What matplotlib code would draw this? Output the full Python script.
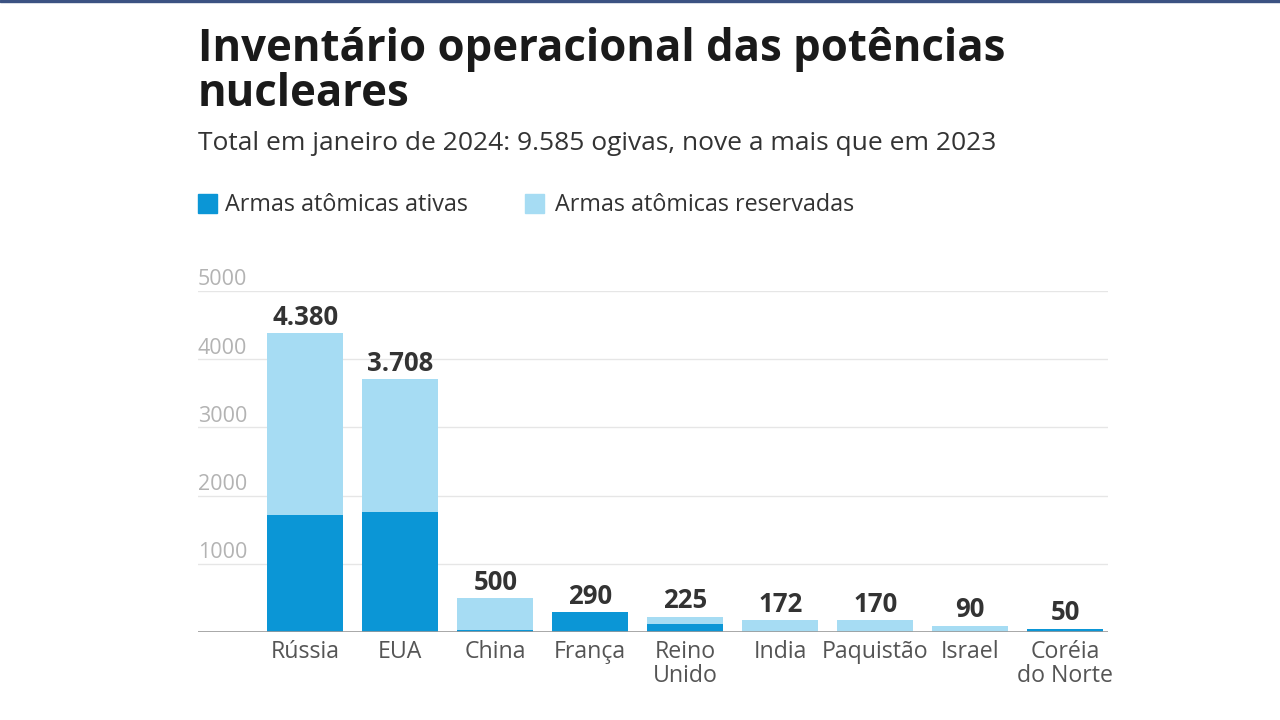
import matplotlib.pyplot as plt
import numpy as np

plt.rcParams['font.family'] = ['Open Sans', 'DejaVu Sans']

categories = ["Rússia", "EUA", "China", "França", "Reino\nUnido", "India", "Paquistão", "Israel", "Coréia\ndo Norte"]
totals = [4380, 3708, 500, 290, 225, 172, 170, 90, 50]
active = [1715, 1765, 24, 290, 120, 0, 0, 0, 50]
reserve = [t - a for t, a in zip(totals, active)]
total_labels = ["4.380", "3.708", "500", "290", "225", "172", "170", "90", "50"]
yticks = [1000, 2000, 3000, 4000, 5000]

dark = "#0b96d6"
light = "#a6dcf3"

W, H = 1280, 720
fig = plt.figure(figsize=(12.8, 7.2), dpi=100)
fig.patch.set_facecolor("white")

# axes placement in pixel coords
x0, x1 = 198, 1108
y0, y1 = 632, 291  # y for 0 and 5000
ax = fig.add_axes([x0 / W, 1 - y0 / H, (x1 - x0) / W, (y0 - y1) / H])
ax.set_xlim(-1.13, 8.45)
ax.set_ylim(0, 5000)

x = np.arange(len(categories))
ax.bar(x, active, width=0.8, color=dark, zorder=3)
ax.bar(x, reserve, bottom=active, width=0.8, color=light, zorder=3)

for xi, t, lab in zip(x, totals, total_labels):
    ax.text(xi, t + 35, lab, ha="center", va="bottom", fontsize=18.5,
            fontweight="bold", color="#333333", zorder=4)

for yt in yticks:
    ax.axhline(yt, color="#e6e6e6", lw=1, zorder=1)
    ax.text(-1.13, yt + 8, str(yt), ha="left", va="bottom", fontsize=15.5,
            color="#b3b3b3")
ax.axhline(0, color="#9a9a9a", lw=1.2, zorder=4)

ax.set_xticks(x)
ax.set_xticklabels(categories, fontsize=16.7, color="#555555", linespacing=1.0)
ax.tick_params(axis="x", length=0, pad=6)
ax.set_yticks([])
for s in ax.spines.values():
    s.set_visible(False)

# title & subtitle
fig.text(198 / W, 1 - 27 / H, "Inventário operacional das potências\nnucleares",
         ha="left", va="top", fontsize=31.5, fontweight="bold", color="#1a1a1a",
         linespacing=1.0)
fig.text(198 / W, 1 - 143 / H,
         "Total em janeiro de 2024: 9.585 ogivas, nove a mais que em 2023",
         ha="left", va="center", fontsize=19, color="#333333")

# legend
fig.patches.append(plt.Rectangle((198 / W, 1 - 213 / H), 19 / W, 19 / H,
                                 transform=fig.transFigure, color=dark))
fig.text(225 / W, 1 - 205 / H, "Armas atômicas ativas", ha="left", va="center",
         fontsize=16.8, color="#333333")
fig.patches.append(plt.Rectangle((525 / W, 1 - 213 / H), 19 / W, 19 / H,
                                 transform=fig.transFigure, color=light))
fig.text(555 / W, 1 - 205 / H, "Armas atômicas reservadas", ha="left", va="center",
         fontsize=16.8, color="#333333")

# top border line
fig.patches.append(plt.Rectangle((0, 1 - 2 / H), 1, 2 / H,
                                 transform=fig.transFigure, color="#3b5282"))

fig.savefig("out.png", dpi=100, facecolor="white")
